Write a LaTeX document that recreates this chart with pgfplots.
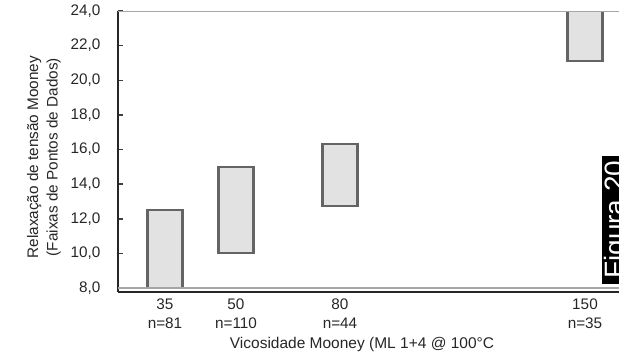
\documentclass[border=0pt]{standalone}
\usepackage{pgfplots}
\pgfplotsset{compat=1.18}
\usepackage{pgfplotstable}
\usepackage{fontspec}
\setmainfont{Liberation Sans}
\definecolor{boxfill}{RGB}{226,226,226}
\definecolor{boxedge}{RGB}{100,100,100}

% x = position along the axis, low/high = range of data points
\pgfplotstableread{
x low high
165 8 12.5
236 10 15
340 12.75 16.3
585 21.1 24.6
}\ranges

\begin{document}
\begin{tikzpicture}
\begin{axis}[
  at={(118pt,68pt)}, anchor=south west,
  scale only axis, width=501pt, height=281pt,
  xmin=118, xmax=619, ymin=7.77, ymax=24,
  axis x line=bottom, axis y line=left,
  axis line style={-, line width=1.8pt, black!85},
  ybar stacked, bar width=35,
  ytick={8,10,...,24},
  /pgf/number format/fixed, /pgf/number format/fixed zerofill,
  /pgf/number format/precision=1, /pgf/number format/use comma,
  /pgf/number format/assume math mode=true,
  yticklabel style={xshift=-14pt, font=\fontsize{15.3}{18}\selectfont, text=black!85},
  ytick style={black!75, line width=1.5pt},
  major tick length=5pt, tick align=inside,
  xtick={165,236,340,585},
  xticklabels={{35\\n=81},{50\\n=110},{80\\n=44},{150\\n=35}},
  xticklabel style={align=center, yshift=-3pt, font=\fontsize{15.3}{19.5}\selectfont, text=black!85},
  xtick style={draw=none},
  xlabel={Vicosidade Mooney (ML 1+4 @ 100°C},
  xlabel style={at={(axis description cs:0.487,-0.186)}, anchor=center, font=\fontsize{15.5}{18}\selectfont, text=black!85},
  ylabel={Relaxação de tensão Mooney\\(Faixas de Pontos de Dados)},
  ylabel style={at={(axis description cs:-0.148,0.48)}, anchor=center, align=center, font=\fontsize{15.3}{19.5}\selectfont, text=black!85},
  clip=true,
]
\draw[black!35, line width=1.5pt] (axis cs:118,8) -- (axis cs:619,8);
\draw[black!35, line width=1.5pt] (rel axis cs:0,1) -- (rel axis cs:1,1);
\addplot[draw=none, fill=none] table[x=x, y=low] {\ranges};
\addplot[fill=boxfill, draw=boxedge, line width=2.2pt] table[x=x, y expr=\thisrow{high}-\thisrow{low}] {\ranges};
\end{axis}
\node[fill=black, text=white, rotate=90, anchor=north west, inner xsep=5pt, inner ysep=2pt,
      font=\fontsize{28}{28}\selectfont] at (602pt,76pt) {Figura 20};
\pgfresetboundingbox
\useasboundingbox (0pt,0pt) rectangle (619pt,360pt);
\end{tikzpicture}
\end{document}
